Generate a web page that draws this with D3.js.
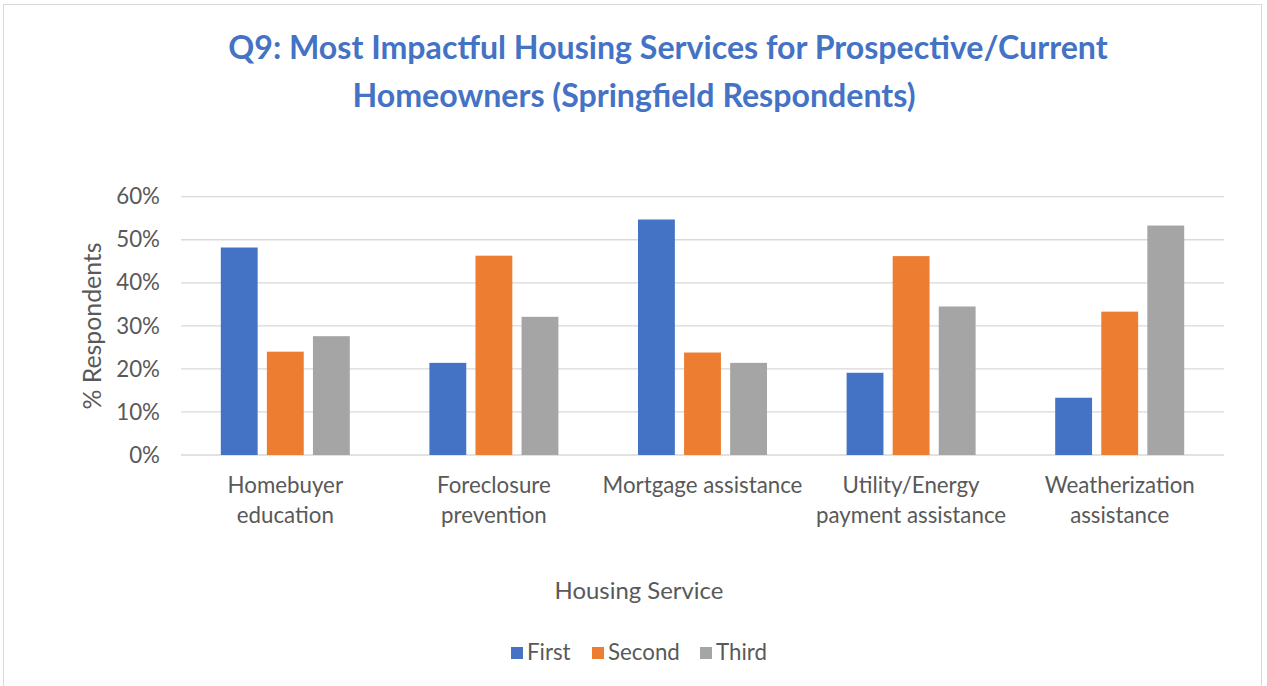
<!DOCTYPE html>
<html><head><meta charset="utf-8">
<script src="https://cdn.jsdelivr.net/npm/d3@7"></script>
<style>body{margin:0;background:#fff}svg{display:block}</style>
</head><body>
<svg id="c" width="1267" height="686"></svg>
<script>
const categories = [["Homebuyer","education"],["Foreclosure","prevention"],["Mortgage assistance"],["Utility/Energy","payment assistance"],["Weatherization","assistance"]];
const seriesNames = ["First","Second","Third"];
const first  = [48.2, 21.4, 54.7, 19.1, 13.3];
const second = [24.0, 46.3, 23.8, 46.2, 33.3];
const third  = [27.6, 32.1, 21.4, 34.5, 53.3];
const yTicks = [0,10,20,30,40,50,60];
const colors = ["#4472C4","#ED7D31","#A5A5A5"];

const svg = d3.select("#c");
const FONT = "Lato, 'Open Sans', sans-serif";
// fit font size so that text has target width
function fitSize(txt, target, weight){
  const t = svg.append("text").attr("font-family",FONT).attr("font-weight",weight||400).attr("font-size",100).text(txt);
  const w = t.node().getComputedTextLength(); t.remove();
  return 100*target/w;
}

svg.append("rect").attr("x",3.5).attr("y",4.5).attr("width",1258).attr("height",690)
  .attr("fill","#fff").attr("stroke","#d9d9d9");

const tSize = fitSize("Q9: Most Impactful Housing Services for Prospective/Current", 880, 700);
const title = svg.append("text").attr("font-family",FONT).attr("font-weight",700).attr("font-size",tSize)
  .attr("fill","#4472C4").attr("text-anchor","middle");
title.append("tspan").attr("x",668).attr("y",59).text("Q9: Most Impactful Housing Services for Prospective/Current");
title.append("tspan").attr("x",634).attr("y",107).text("Homeowners (Springfield Respondents)");

const m = {l:181, r:1224, t:196.7, b:455};
const x0 = d3.scaleBand().domain(d3.range(categories.length)).range([m.l,m.r]).paddingInner(0).paddingOuter(0);
const x1 = d3.scaleBand().domain(seriesNames).range([0,129]).paddingInner(0.2);
const y = d3.scaleLinear().domain([0,60]).range([m.b,m.t]);

const lblSize = fitSize("Mortgage assistance", 200, 400);

// gridlines
svg.append("g").selectAll("line").data(yTicks).join("line")
  .attr("x1",m.l).attr("x2",m.r).attr("y1",d=>y(d)).attr("y2",d=>y(d))
  .attr("stroke","#d9d9d9").attr("stroke-width",1.3);

// y axis labels
const yAxis = d3.axisLeft(y).tickValues(yTicks).tickFormat(d=>d+"%").tickSize(0).tickPadding(0);
const ya = svg.append("g").attr("transform",`translate(160,0)`).call(yAxis);
ya.select(".domain").remove();
ya.selectAll("text").attr("font-family",FONT).attr("font-size",lblSize).attr("fill","#595959");

const data = [first,second,third];
const g = svg.append("g");
categories.forEach((c,i)=>{
  const cx = x0(i)+x0.bandwidth()/2;
  g.selectAll(null).data(seriesNames).join("rect")
    .attr("x",s=>cx-64.5+x1(s)).attr("width",x1.bandwidth())
    .attr("y",(s,j)=>y(data[j][i])).attr("height",(s,j)=>y(0)-y(data[j][i]))
    .attr("fill",(s,j)=>colors[j]);
});

// x axis labels
const xa = svg.append("g");
categories.forEach((c,i)=>{
  const cx = x0(i)+x0.bandwidth()/2;
  const t = xa.append("text").attr("font-family",FONT).attr("font-size",lblSize).attr("fill","#595959").attr("text-anchor","middle");
  c.forEach((line,k)=> t.append("tspan").attr("x",cx).attr("y",493+k*30).text(line));
});

// axis titles
svg.append("text").attr("font-family",FONT).attr("font-size",fitSize("Housing Service",169,400)).attr("fill","#595959")
  .attr("text-anchor","middle").attr("x",639).attr("y",599).text("Housing Service");
svg.append("text").attr("font-family",FONT).attr("font-size",fitSize("% Respondents",167,400)).attr("fill","#595959")
  .attr("text-anchor","middle").attr("transform","translate(101,326) rotate(-90)").text("% Respondents");

// legend
const legX = [511, 592, 700];
const lg = svg.append("g");
seriesNames.forEach((s,j)=>{
  lg.append("rect").attr("x",legX[j]).attr("y",647).attr("width",12).attr("height",12).attr("fill",colors[j]);
  lg.append("text").attr("font-family",FONT).attr("font-size",lblSize).attr("fill","#595959")
    .attr("x",legX[j]+16).attr("y",660).text(s);
});
</script>
</body></html>
